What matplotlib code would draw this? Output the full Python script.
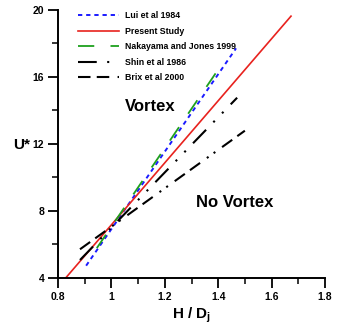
import numpy as np
import matplotlib
matplotlib.use('Agg')
import matplotlib.pyplot as plt
from matplotlib.ticker import MultipleLocator

plt.rcParams['font.family'] = ['Liberation Sans', 'DejaVu Sans']
plt.rcParams['font.weight'] = 'bold'
plt.rcParams['mathtext.fontset'] = 'custom'
plt.rcParams['mathtext.bf'] = 'Liberation Sans:bold'
plt.rcParams['mathtext.rm'] = 'Liberation Sans:bold'

# end points of each onset criterion line (H/Dj, U*)
lui_x = [0.905, 1.467]
lui_y = [4.72, 17.7]
present_x = [0.829, 1.673]
present_y = [4.0, 19.62]
nakayama_x = [0.945, 1.42]
nakayama_y = [5.77, 16.9]
shin_x = [0.882, 1.471]
shin_y = [5.06, 14.75]
brix_x = [0.882, 1.50]
brix_y = [5.7, 12.78]

labels = ['Lui et al 1984', 'Present Study', 'Nakayama and Jones 1999',
          'Shin et al 1986', 'Brix et al 2000']

fig = plt.figure(figsize=(3.46, 3.26), dpi=100)
ax = fig.add_axes([0.168, 0.148, 0.771, 0.822])

ax.plot(lui_x, lui_y, color='#1a1aff', lw=1.4, dashes=(2.2, 2.0), label=labels[0])
ax.plot(present_x, present_y, color='#e8221e', lw=1.2, label=labels[1])
ax.plot(nakayama_x, nakayama_y, color='#1ea01e', lw=1.3, dashes=(9, 9), label=labels[2])
ax.plot(shin_x, shin_y, color='black', lw=1.5,
        dashes=(9, 5, 1, 5, 1, 5), label=labels[3])
ax.plot(brix_x, brix_y, color='black', lw=1.5,
        dashes=(6, 3, 6, 4, 1, 3, 1, 4), label=labels[4])

ax.text(1.145, 14.2, 'Vortex', fontsize=12, fontweight='bold', ha='center', va='center')
ax.text(1.463, 8.47, 'No Vortex', fontsize=12, fontweight='bold', ha='center', va='center')

ax.set_xlim(0.8, 1.8)
ax.set_ylim(4, 20)
ax.xaxis.set_minor_locator(MultipleLocator(0.1))
ax.yaxis.set_major_locator(MultipleLocator(4))
ax.yaxis.set_minor_locator(MultipleLocator(2))
ax.set_xticks(np.arange(0.8, 1.81, 0.2))
ax.set_xticklabels(['0.8', '1', '1.2', '1.4', '1.6', '1.8'])

ax.spines['top'].set_visible(False)
ax.spines['right'].set_visible(False)
for s in ['left', 'bottom']:
    ax.spines[s].set_linewidth(1.4)
ax.tick_params(which='major', direction='out', length=7, width=1.3, labelsize=7.5, pad=3)
ax.tick_params(which='minor', direction='out', length=4, width=1.1)
for lab in ax.get_xticklabels() + ax.get_yticklabels():
    lab.set_fontweight('bold')

ax.set_xlabel(r'H / D$_\mathbf{j}$', fontsize=11, fontweight='bold', labelpad=3)
ax.set_ylabel('U*', fontsize=11, fontweight='bold', rotation=0, ha='center', va='center')
ax.yaxis.set_label_coords(-0.135, 0.495)

leg = ax.legend(loc='upper left', bbox_to_anchor=(0.075, 0.995), frameon=False,
                fontsize=6.3, handlelength=4.7, handletextpad=0.7, labelspacing=0.75,
                borderpad=0, borderaxespad=0)

fig.savefig('out.png', dpi=100)
